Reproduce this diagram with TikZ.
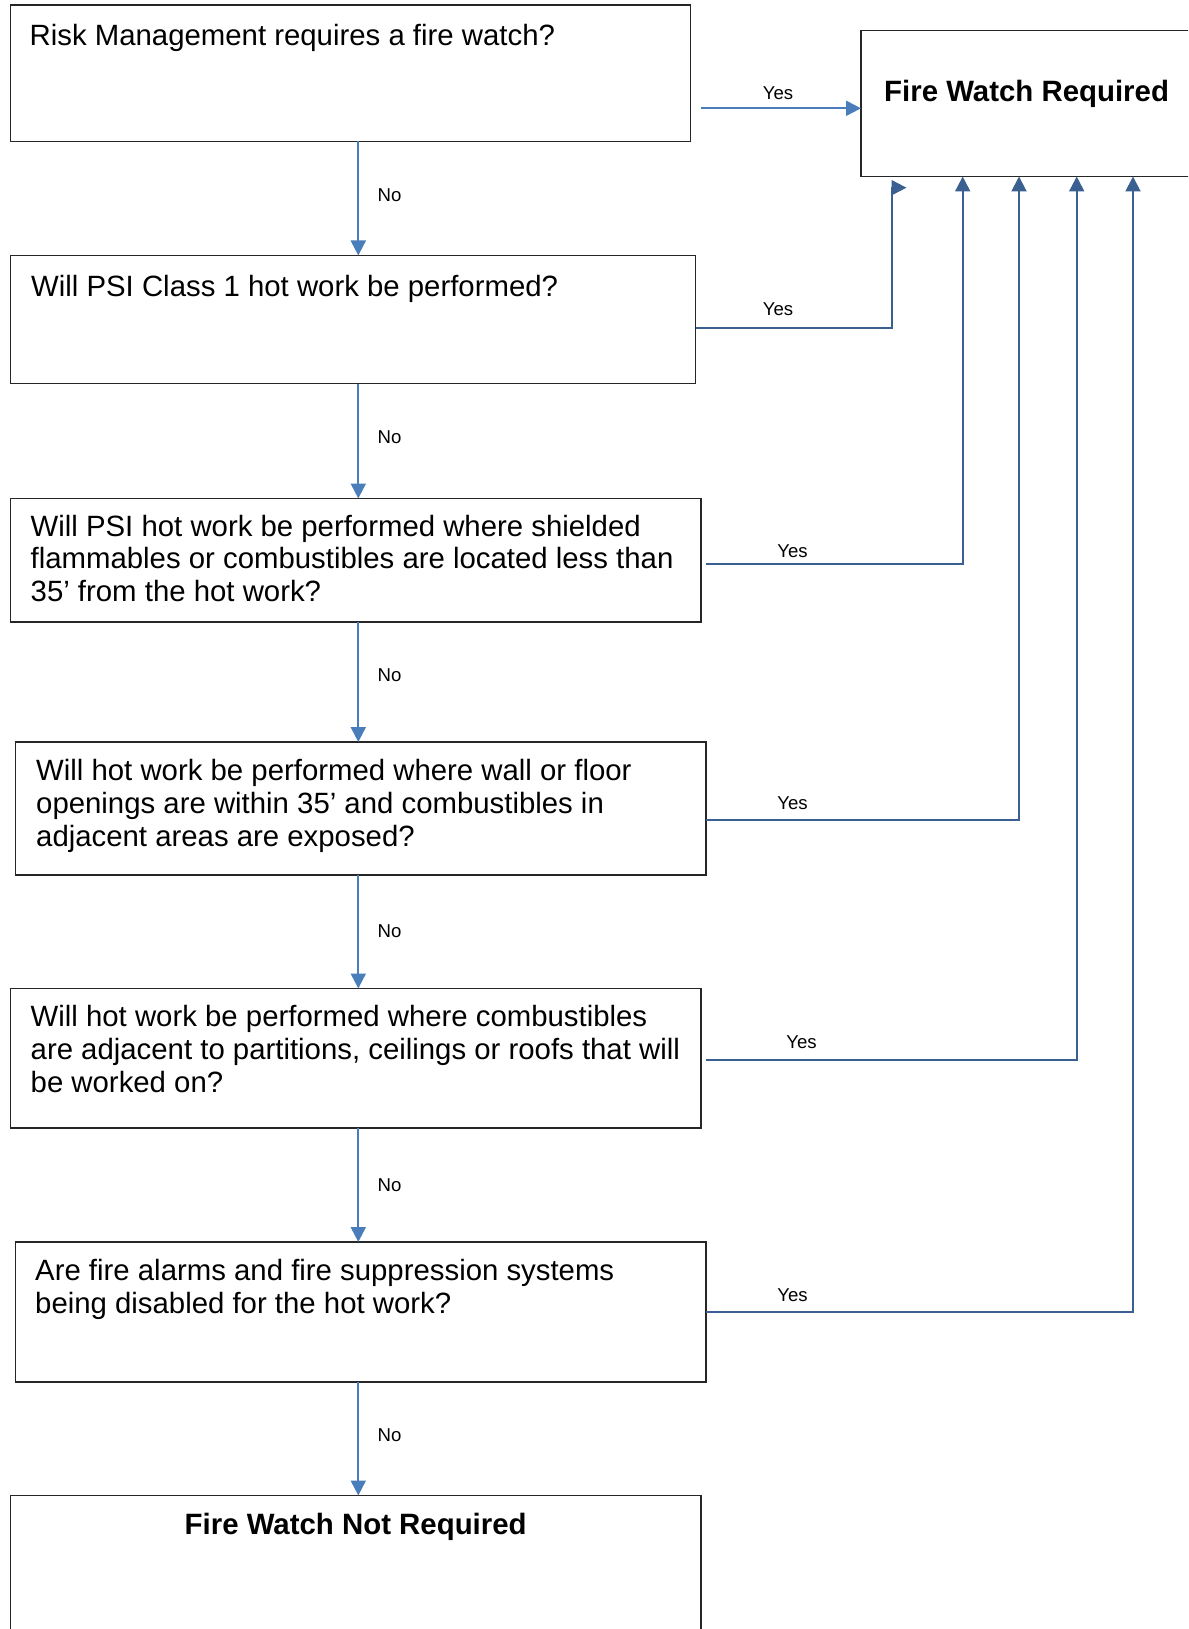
\documentclass[tikz,border=0pt]{standalone}
\usepackage{fontspec}
\setmainfont{Liberation Sans}
\usetikzlibrary{arrows.meta}
\definecolor{lblue}{RGB}{74,126,187}
\definecolor{dblue}{RGB}{58,96,145}
\begin{document}
\begin{tikzpicture}[x=1pt,y=-1pt,
  box/.style={draw=black!85, line width=1.3pt, inner sep=0, outer sep=0, anchor=north west},
  txt/.style={inner sep=0, anchor=base west, font=\fontsize{29.35}{32.9}\selectfont},
  ttl/.style={inner sep=0, font=\bfseries\fontsize{29.4}{32.9}\selectfont},
  lbl/.style={inner sep=0, anchor=center, font=\fontsize{18.6}{20}\selectfont},
  noarr/.style={draw=lblue, line width=2pt, -{Triangle[length=15pt,width=15pt]}},
  yesarr/.style={draw=dblue, line width=2pt, -{Triangle[length=15pt,width=15pt]}}]
\clip (0,0) rectangle (1188,1629);
\fill[white] (0,0) rectangle (1188,1629);
% boxes
\node[box, minimum width=680pt, minimum height=136.5pt] (b1) at (10.5,5) {};
\node[box, minimum width=685pt, minimum height=128pt] (b2) at (10.5,255.5) {};
\node[box, minimum width=690.5pt, minimum height=123.5pt] (b3) at (10.5,498.5) {};
\node[box, minimum width=690.5pt, minimum height=133pt] (b4) at (15.5,742) {};
\node[box, minimum width=690.5pt, minimum height=139.5pt] (b5) at (10.5,988.5) {};
\node[box, minimum width=690.5pt, minimum height=140pt] (b6) at (15.5,1242) {};
\node[box, minimum width=690.5pt, minimum height=250pt] (b7) at (10.5,1495.5) {};
\node[box, minimum width=420pt, minimum height=146pt] (fwr) at (861,30.5) {};
% texts
\node[txt] (t1) at (29.5,46) {\parbox[t]{700pt}{\raggedright Risk Management requires a fire watch?}};
\node[txt] (t2) at (31,296) {\parbox[t]{700pt}{\raggedright Will PSI Class 1 hot work be performed?}};
\node[txt] (t3) at (30.5,536) {\parbox[t]{700pt}{\raggedright Will PSI hot work be performed where shielded\\flammables or combustibles are located less than\\35’ from the hot work?}};
\node[txt] (t4) at (36,780.7) {\parbox[t]{700pt}{\raggedright Will hot work be performed where wall or floor\\openings are within 35’ and combustibles in\\adjacent areas are exposed?}};
\node[txt] (t5) at (30.5,1026.7) {\parbox[t]{700pt}{\raggedright Will hot work be performed where combustibles\\are adjacent to partitions, ceilings or roofs that will\\be worked on?}};
\node[txt] (t6) at (35,1280.7) {\parbox[t]{700pt}{\raggedright Are fire alarms and fire suppression systems\\being disabled for the hot work?}};
\node[ttl, anchor=base west] (tf) at (884,101.7) {Fire Watch Required};
\node[ttl, anchor=base] (tn) at (355.7,1534) {Fire Watch Not Required};
% No connectors
\coordinate (vx) at (358.3,0);
\draw[noarr] (b1.south -| vx) -- (b2.north -| vx);
\draw[noarr] (b2.south -| vx) -- (b3.north -| vx);
\draw[noarr] (b3.south -| vx) -- (b4.north -| vx);
\draw[noarr] (b4.south -| vx) -- (b5.north -| vx);
\draw[noarr] (b5.south -| vx) -- (b6.north -| vx);
\draw[noarr] (b6.south -| vx) -- (b7.north -| vx);
\node[lbl] (n1) at (389.5,195) {No};
\node[lbl] (n2) at (389.5,437.5) {No};
\node[lbl] (n3) at (389.5,675.5) {No};
\node[lbl] (n4) at (389.5,931) {No};
\node[lbl] (n5) at (389.5,1185.5) {No};
\node[lbl] (n6) at (389.5,1435.5) {No};
% Yes connectors
\coordinate (s1) at (701,108.3);
\coordinate (s2) at (695.7,328.3);
\coordinate (s3) at (705.7,564);
\coordinate (s4) at (706,820);
\coordinate (s5) at (705.7,1060.3);
\coordinate (s6) at (706,1312.3);
\coordinate (k2) at (891.7,187.7);
\coordinate (k2t) at (906.5,187.7);
\coordinate (k3) at (962.7,0);
\coordinate (k4) at (1019,0);
\coordinate (k5) at (1076.7,0);
\coordinate (k6) at (1133,0);
\draw[noarr] (s1) -- (fwr.west |- s1);
\draw[yesarr] (s2) -| (k2) -- (k2t);
\draw[yesarr] (s3) -| (fwr.south -| k3);
\draw[yesarr] (s4) -| (fwr.south -| k4);
\draw[yesarr] (s5) -| (fwr.south -| k5);
\draw[yesarr] (s6) -| (fwr.south -| k6);
\node[lbl] (y1) at (778,93) {Yes};
\node[lbl] (y2) at (778,309) {Yes};
\node[lbl] (y3) at (792.5,551.3) {Yes};
\node[lbl] (y4) at (792.5,803) {Yes};
\node[lbl] (y5) at (801.5,1042) {Yes};
\node[lbl] (y6) at (792.5,1295.5) {Yes};
\end{tikzpicture}
\end{document}
